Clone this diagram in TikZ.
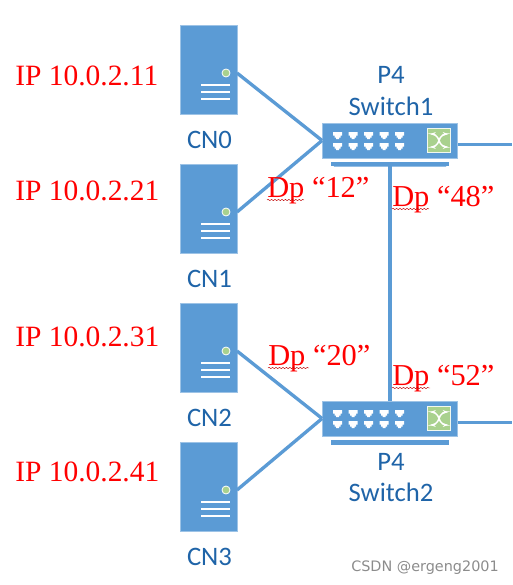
\documentclass[tikz,border=0pt]{standalone}
\usepackage{fontspec}
\setmainfont{Liberation Serif}
\newfontfamily\calibrifont{Carlito}
\newfontfamily\wmfont{DejaVu Sans}
\usetikzlibrary{decorations.pathmorphing,arrows.meta}
\definecolor{boxblue}{HTML}{5B9BD5}
\definecolor{edgeblue}{HTML}{9DC3E6}
\definecolor{labelblue}{HTML}{1F64A8}
\definecolor{dotgreen}{HTML}{A9D18E}
\tikzset{
  x=0.75pt,y=-0.75pt,
  server/.style={draw=edgeblue,line width=0.4pt,fill=boxblue,minimum width=42.5pt,minimum height=66.5pt,inner sep=0pt},
  switchbox/.style={draw=edgeblue,line width=0.4pt,fill=boxblue,minimum width=101.5pt,minimum height=26pt,inner sep=0pt},
  basebar/.style={fill=boxblue,minimum width=88.5pt,minimum height=3.2pt,inner sep=0pt},
  link/.style={draw=boxblue,line width=2.5pt},
  iplabel/.style={anchor=base west,inner sep=0pt,text=red,font=\fontsize{22.1}{24}\selectfont},
  dplabel/.style={anchor=base west,inner sep=0pt,text=red,font=\fontsize{22.8}{24}\selectfont},
  bluelabel/.style={anchor=base,inner sep=0pt,text=labelblue,font=\calibrifont\fontsize{20}{22}\selectfont},
  squiggle/.style={draw=red!75!black,line width=0.35pt,decorate,decoration={snake,amplitude=0.45pt,segment length=2.6pt}},
  greenbox/.style={draw=white!85!dotgreen,line width=0.8pt,fill=dotgreen,minimum width=17.5pt,minimum height=17.5pt,inner sep=0pt},
}
\newcommand{\servergfx}[2]{%
  \fill[dotgreen,draw=white,line width=0.6pt] (226,#1+48) circle (3pt);
  \foreach \dy in {60,67,74}{\draw[white,line width=1.5pt] (201,#1+\dy) -- (230,#1+\dy);}
}
\newcommand{\portgfx}[2]{%
  \fill[white] (#1,#2) -- ++(9,0) -- ++(0,3.5) -- ++(-1.5,0) -- ++(0,2) -- ++(-1.5,0) -- ++(0,1.5) -- ++(-3,0) -- ++(0,-1.5) -- ++(-1.5,0) -- ++(0,-2) -- ++(-1.5,0) -- cycle;
}
\newcommand{\portgfxb}[2]{%
  \fill[white] (#1,#2) -- ++(9,0) -- ++(0,-3.5) -- ++(-1.5,0) -- ++(0,-2) -- ++(-1.5,0) -- ++(0,-1.5) -- ++(-3,0) -- ++(0,1.5) -- ++(-1.5,0) -- ++(0,2) -- ++(-1.5,0) -- cycle;
}
\newcommand{\portsgfx}[1]{%
  \foreach \px in {333,348.5,364,379.5,395}{\portgfx{\px}{#1+9}\portgfx{\px}{#1+20}}
}
\newcommand{\crossgfx}[1]{%
  \draw[white,line width=1.1pt,{Stealth[length=4pt]}-{Stealth[length=4pt]},rounded corners=3pt] (430.5,#1+11) -- (436,#1+11) -- (442,#1+24) -- (448,#1+24);
  \draw[white,line width=1.1pt,{Stealth[length=4pt]}-{Stealth[length=4pt]},rounded corners=3pt] (430.5,#1+24) -- (436,#1+24) -- (442,#1+11) -- (448,#1+11);
}
\begin{document}
\begin{tikzpicture}
\useasboundingbox (0,0) rectangle (512,585);
\node[switchbox] (sw1) at (390,140.5) {};
\node[switchbox] (sw2) at (390,418.5) {};
\node[basebar] (bar1) at (390,164) {};
\node[basebar] (bar2) at (390,442.5) {};
\node[server] (cn0) at (208.5,69.5) {};
\node[server] (cn1) at (208.5,208.5) {};
\node[server] (cn2) at (208.5,347.5) {};
\node[server] (cn3) at (208.5,486.5) {};
\coordinate (p0) at (237,73);
\coordinate (p1) at (237,212);
\coordinate (p2) at (237,351);
\coordinate (p3) at (237,490);
\coordinate (out1) at (512,144.5);
\coordinate (out2) at (512,422.5);
\coordinate (sw1e) at (458,144.5);
\coordinate (sw2e) at (458,422.5);
\draw[link] (p0) -- (sw1.west);
\draw[link] (p1) -- (sw1.west);
\draw[link] (p2) -- (sw2.west);
\draw[link] (p3) -- (sw2.west);
\draw[link] (sw1e) -- (out1);
\draw[link] (sw2e) -- (out2);
\draw[link] (bar1.south) -- (sw2.north);
\servergfx{25}{}
\servergfx{164}{}
\servergfx{303}{}
\servergfx{442}{}
\fill[boxblue] (331,162) -- (449,162) -- (446,166.5) -- (334,166.5) -- cycle;
\fill[boxblue] (331,440) -- (449,440) -- (446,444.5) -- (334,444.5) -- cycle;
\portsgfx{123}
\portsgfx{401}
\node[greenbox] (g1) at (439,140.5) {};
\node[greenbox] (g2) at (439,418.5) {};
\crossgfx{123}
\crossgfx{401}
\node[iplabel] (ip0) at (15,85) {IP 10.0.2.11};
\node[iplabel] (ip1) at (15,200) {IP 10.0.2.21};
\node[iplabel] (ip2) at (15,346) {IP 10.0.2.31};
\node[iplabel] (ip3) at (15,481) {IP 10.0.2.41};
\node[bluelabel] (l0) at (209.5,148) {CN0};
\node[bluelabel] (l1) at (209.5,287) {CN1};
\node[bluelabel] (l2) at (209.5,426) {CN2};
\node[bluelabel] (l3) at (209.5,565) {CN3};
\node[bluelabel] (t1a) at (391,84) {P4};
\node[bluelabel] (t1b) at (391,115) {Switch1};
\node[bluelabel] (t2a) at (391,470) {P4};
\node[bluelabel] (t2b) at (391,501) {Switch2};
\node[dplabel] (d12) at (267,197) {Dp “12”};
\node[dplabel] (d48) at (392,206) {Dp “48”};
\node[dplabel] (d20) at (268,365) {Dp “20”};
\node[dplabel] (d52) at (392,385) {Dp “52”};
\draw[squiggle] (267,200) -- (304,200);
\draw[squiggle] (392,209) -- (429,209);
\draw[squiggle] (268,368) -- (309,368);
\draw[squiggle] (392,388) -- (430,388);
\node[anchor=base west,inner sep=0pt,text=black!45,font=\wmfont\fontsize{10.8}{12}\selectfont] (wm) at (351,571) {CSDN @ergeng2001};
\end{tikzpicture}
\end{document}
